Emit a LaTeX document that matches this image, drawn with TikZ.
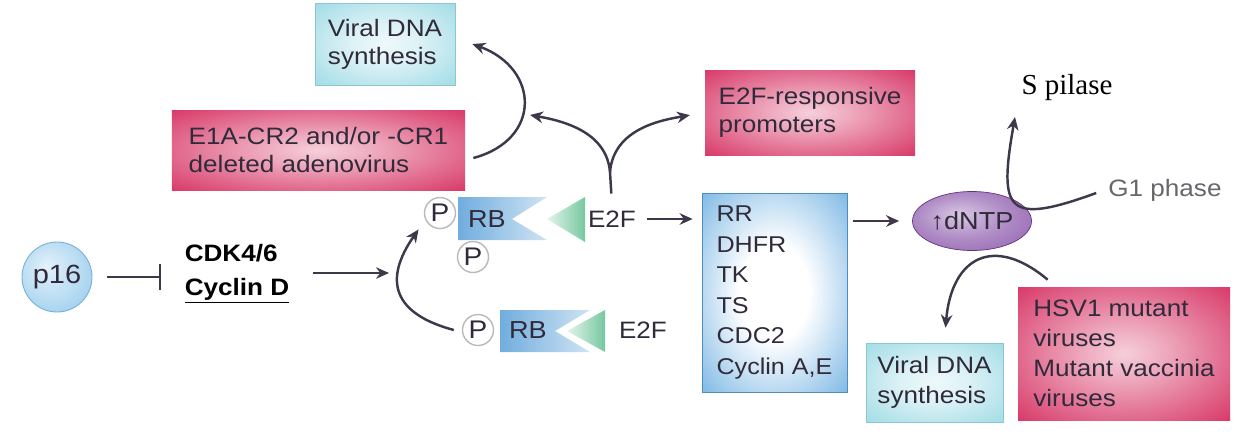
\documentclass[tikz,border=0pt]{standalone}
\usepackage{fontspec}
\setmainfont[FakeStretch=1.1]{Liberation Sans}
\newfontfamily\serif{Liberation Serif}
\usetikzlibrary{arrows.meta, shapes.geometric, positioning}

\definecolor{ink}{RGB}{48,42,58}
\definecolor{wire}{RGB}{62,56,74}
\definecolor{crimson}{RGB}{212,38,90}
\definecolor{listblue}{RGB}{92,166,222}
\definecolor{viralcyan}{RGB}{140,212,224}
\definecolor{p16blue}{RGB}{120,188,232}
\definecolor{dntppurple}{RGB}{124,66,160}
\definecolor{rbblue}{RGB}{96,164,218}
\definecolor{e2fgreen}{RGB}{118,200,160}

\pgfdeclareradialshading{redglow}{\pgfpoint{0bp}{0bp}}{color(0bp)=(crimson!22!white); color(10bp)=(crimson!40!white); color(40bp)=(crimson); color(50bp)=(crimson)}
\pgfdeclareradialshading{blueglow}{\pgfpoint{0bp}{0bp}}{color(0bp)=(white); color(12bp)=(white); color(42bp)=(listblue); color(50bp)=(listblue)}
\pgfdeclareradialshading{cyanglow}{\pgfpoint{0bp}{0bp}}{color(0bp)=(viralcyan!15!white); color(12bp)=(viralcyan!30!white); color(44bp)=(viralcyan); color(50bp)=(viralcyan)}
\pgfdeclareradialshading{p16glow}{\pgfpoint{-8bp}{8bp}}{color(0bp)=(p16blue!20!white); color(20bp)=(p16blue!50!white); color(50bp)=(p16blue)}
\pgfdeclareradialshading{dntpglow}{\pgfpoint{-6bp}{6bp}}{color(0bp)=(dntppurple!30!white); color(18bp)=(dntppurple!60!white); color(50bp)=(dntppurple)}

\tikzstyle{arr}=[line width=1.4pt, draw=wire, -{Stealth[length=2.6mm, width=2.3mm]}]
\tikzstyle{stem}=[line width=1.4pt, draw=wire]
\tikzstyle{virus}=[rectangle, shade, shading=redglow, text=ink, align=left, font=\fontsize{13.5}{16}\selectfont]
\tikzstyle{viral}=[rectangle, shade, shading=cyanglow, draw=viralcyan!85!gray, line width=0.4pt, text=ink, align=left, font=\fontsize{13.5}{16}\selectfont]
\tikzstyle{genes}=[rectangle, shade, shading=blueglow, draw=listblue!85!black, line width=0.4pt, text=ink, align=left, font=\fontsize{13}{17.3}\selectfont]
\tikzstyle{phos}=[circle, draw=gray!55, line width=0.8pt, fill=white, minimum size=6.2mm, inner sep=0pt, text=ink, font=\fontsize{14.5}{14}\selectfont]
\tikzstyle{lbl}=[text=ink, font=\fontsize{14}{14}\selectfont]

\begin{document}
\begin{tikzpicture}[x=0.2mm, y=-0.2mm]
\useasboundingbox (0,0) rectangle (1241,443);

% boxes
\node [viral, minimum width=28mm, minimum height=16.4mm] (virA) at (385,44) {Viral DNA\\synthesis};
\node [virus, minimum width=58.6mm, minimum height=16mm] (adeno) at (318.5,150) {E1A-CR2 and/or -CR1\\deleted adenovirus};
\node [virus, minimum width=42mm, minimum height=17mm] (prom) at (810,112.5) {E2F-responsive\\promoters};
\node [genes, minimum width=29mm, minimum height=39.8mm] (list) at (774.5,292.5) {RR\\DHFR\\TK\\TS\\CDC2\\Cyclin A,E};
\node [viral, minimum width=27.4mm, minimum height=15.8mm, font=\fontsize{13.5}{17}\selectfont] (virB) at (934.5,382.5) {Viral DNA\\synthesis};
\node [virus, minimum width=42.4mm, minimum height=26.6mm, font=\fontsize{13.5}{17}\selectfont] (hsv) at (1124,353.5) {HSV1 mutant\\viruses\\Mutant vaccinia\\viruses};

% p16 and CDK
\node [circle, shade, shading=p16glow, draw=p16blue!80!gray, line width=0.5pt, minimum size=14mm, inner sep=0pt, text=ink, font=\fontsize{15}{15}\selectfont] (p16) at (57,277) {p16};
\node [align=left, inner sep=0pt, font=\fontsize{13.5}{19}\bfseries\selectfont] (cdk) at (237,274) {CDK4/6\\\underline{Cyclin D}};
\node [ellipse, shade, shading=dntpglow, draw=dntppurple!80!black, line width=0.4pt, minimum width=23.8mm, minimum height=11.8mm, inner sep=0pt, text=ink, font=\fontsize{14}{14}\selectfont] (dntp) at (972,221) {↑dNTP};

% RB / E2F complexes
\shade [left color=rbblue!90, right color=rbblue!30!white] (458,197) -- (547,197) -- (512,219) -- (547,240) -- (458,240) -- cycle;
\shade [left color=e2fgreen!20!white, right color=e2fgreen] (585,197) -- (585,242) -- (547,219) -- cycle;
\shade [left color=rbblue!90, right color=rbblue!30!white] (500,310) -- (590,310) -- (555,331) -- (590,352) -- (500,352) -- cycle;
\shade [left color=e2fgreen!20!white, right color=e2fgreen] (605,310) -- (605,352) -- (567,331) -- cycle;
\node [lbl] (rbA) at (487,219) {RB};
\node [lbl] (rbB) at (528,330) {RB};
\node [lbl, font=\fontsize{13.5}{14}\selectfont] (e2fA) at (612,219) {E2F};
\node [lbl, font=\fontsize{13.5}{14}\selectfont] (e2fB) at (643,330) {E2F};
\node [phos] (pA) at (440,213) {P};
\node [phos] (pB) at (473,257) {P};
\node [phos] (pC) at (478,330) {P};

% phase labels
\node [font=\serif\fontsize{16.5}{18}\selectfont] (sph) at (1067,88) {S pilase};
\node [text=gray!70!ink, font=\fontsize{13.5}{14}\selectfont] (g1) at (1165,190) {G1 phase};

\coordinate (rbin) at (389,273);
\coordinate (fork) at (610,172);
\coordinate (forkL) at (530,115);
\coordinate (stip) at (1015,117);

% connectors
\draw [stem, -{Bar[width=5.2mm]}, shorten <=3mm, shorten >=4.6mm] (p16) -- (p16 -| cdk.west);
\draw [arr, shorten <=4.6mm] (cdk.east |- rbin) -- (rbin);
\draw [stem, shorten <=2.2mm] (e2fA.north) -- (fork);
\draw [arr] (fork) to [out=95, in=-10] (forkL);
\draw [arr, shorten >=3mm] (fork) to [out=85, in=190] (prom.west);
\draw [arr] ([shift={(8,8)}]adeno.east) to [out=15, in=-20, looseness=1.6] ([shift={(17,0)}]virA.east);
\draw [arr] ([shift={(-8,0)}]pC.west) to [out=165, in=-125, looseness=1.5] ([shift={(-10,5)}]pA.south west);
\draw [arr, shorten <=1mm, shorten >=1.8mm] (e2fA) -- (e2fA -| list.west);
\draw [arr, shorten <=1.2mm, shorten >=2.6mm] (list.east |- dntp) -- (dntp);
\draw [arr] ([shift={(-6,3)}]g1.west) to [out=200, in=-100, looseness=2.2] (stip);
\draw [arr] ([shift={(30,-7)}]hsv.north west) to [out=140, in=85, looseness=1.6] ([shift={(11,-15)}]virB.north);
\end{tikzpicture}
\end{document}
